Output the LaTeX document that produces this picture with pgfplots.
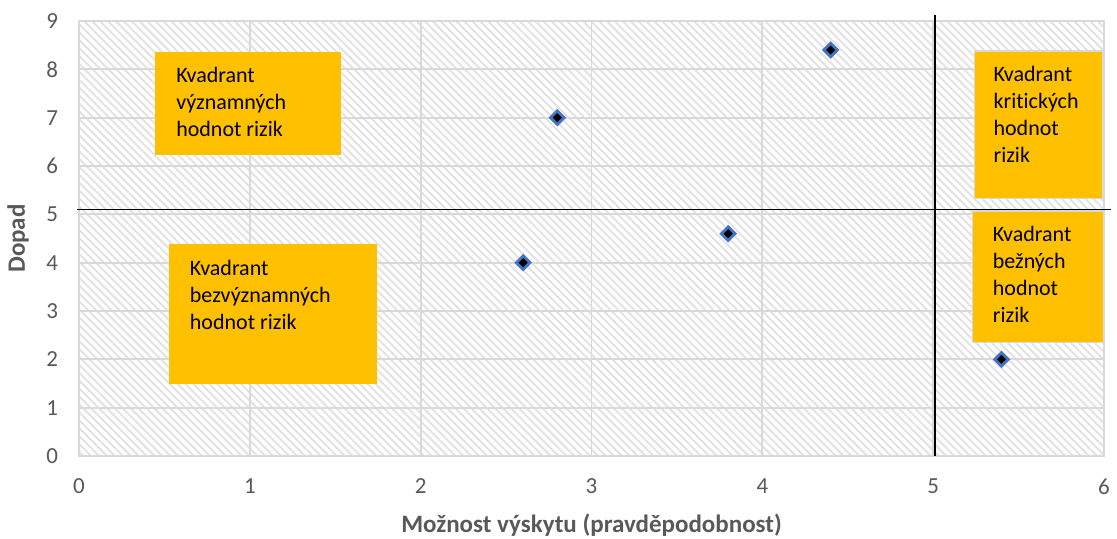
\documentclass[border=0pt]{standalone}
\usepackage{pgfplots}
\pgfplotsset{compat=1.18}
\usepackage{fontspec}
\setmainfont[Ligatures=NoCommon]{Carlito}
\usetikzlibrary{patterns.meta,calc}
\definecolor{gridgray}{HTML}{D9D9D9}
\definecolor{txtgray}{HTML}{595959}
\definecolor{boxor}{HTML}{FFC000}
\definecolor{mkblue}{HTML}{4472C4}
\begin{document}
\begin{tikzpicture}
\begin{axis}[name=ax, scale only axis, width=512.5pt, height=217.5pt,
  xmin=0, xmax=6, ymin=0, ymax=9,
  xtick={0,...,6}, ytick={0,...,9},
  grid=major, major grid style={draw=gridgray, line width=0.9pt},
  axis line style={draw=gridgray, line width=0.9pt},
  tick style={draw=none},
  ticklabel style={font=\fontsize{11.5}{13}\selectfont, text=txtgray},
  /pgf/number format/assume math mode=true,
  xticklabel style={yshift=-8pt},
  yticklabel style={xshift=-7pt},
  xlabel={Možnost výskytu (pravděpodobnost)},
  ylabel={Dopad},
  label style={font=\bfseries\fontsize{12.5}{14}\selectfont, text=txtgray},
  xlabel style={at={(axis description cs:0.5,-0.158)}, anchor=center},
  ylabel style={at={(axis description cs:-0.0595,0.5)}, anchor=center},
  axis background/.style={preaction={fill=white}, pattern={Lines[angle=-45,distance=2.8pt,line width=1.0pt]}, pattern color=gray!22},
  clip=false]
% quadrant dividing lines
\addplot[black, line width=0.8pt, no marks] coordinates {(-0.01,5.1) (6.04,5.1)};
\addplot[black, line width=0.9pt, no marks] coordinates {(5.01,0) (5.01,9.13)};
% boxes
\draw[fill=boxor, draw=boxor] (axis cs:0.45,8.36) rectangle (axis cs:1.53,6.23);
\node[anchor=north west, align=left, inner sep=0pt, font=\fontsize{11}{13.5}\selectfont] at ($(axis cs:0.45,8.36)+(10pt,-7.5pt)$) {Kvadrant\\významných\\hodnot rizik};
\draw[fill=boxor, draw=boxor] (axis cs:0.53,4.37) rectangle (axis cs:1.74,1.51);
\node[anchor=north west, align=left, inner sep=0pt, font=\fontsize{11}{13.5}\selectfont] at ($(axis cs:0.53,4.37)+(10pt,-7.5pt)$) {Kvadrant\\bezvýznamných\\hodnot rizik};
\draw[fill=boxor, draw=gridgray, line width=0.6pt] (axis cs:5.24,8.38) rectangle (axis cs:5.99,5.32);
\node[anchor=north west, align=left, inner sep=0pt, font=\fontsize{11}{13.5}\selectfont] at ($(axis cs:5.24,8.38)+(9.5pt,-7.5pt)$) {Kvadrant\\kritických\\hodnot\\rizik};
\draw[fill=boxor, draw=gridgray, line width=0.6pt] (axis cs:5.23,5.07) rectangle (axis cs:5.996,2.34);
\node[anchor=north west, align=left, inner sep=0pt, font=\fontsize{11}{13.5}\selectfont] at ($(axis cs:5.23,5.07)+(10pt,-7.5pt)$) {Kvadrant\\bežných\\hodnot\\rizik};
% points
\addplot[only marks, mark=square*, mark size=2.4pt, mark options={rotate=45, fill=black, draw=mkblue, line width=1.4pt}] coordinates {(2.6,4) (2.8,7) (3.8,4.6) (4.4,8.4) (5.4,2)};
\end{axis}
\pgfresetboundingbox
\path[use as bounding box] ($(ax.south west)+(-39.5pt,-41.5pt)$) rectangle ($(ax.north east)+(6.5pt,10.5pt)$);
\end{tikzpicture}
\end{document}
